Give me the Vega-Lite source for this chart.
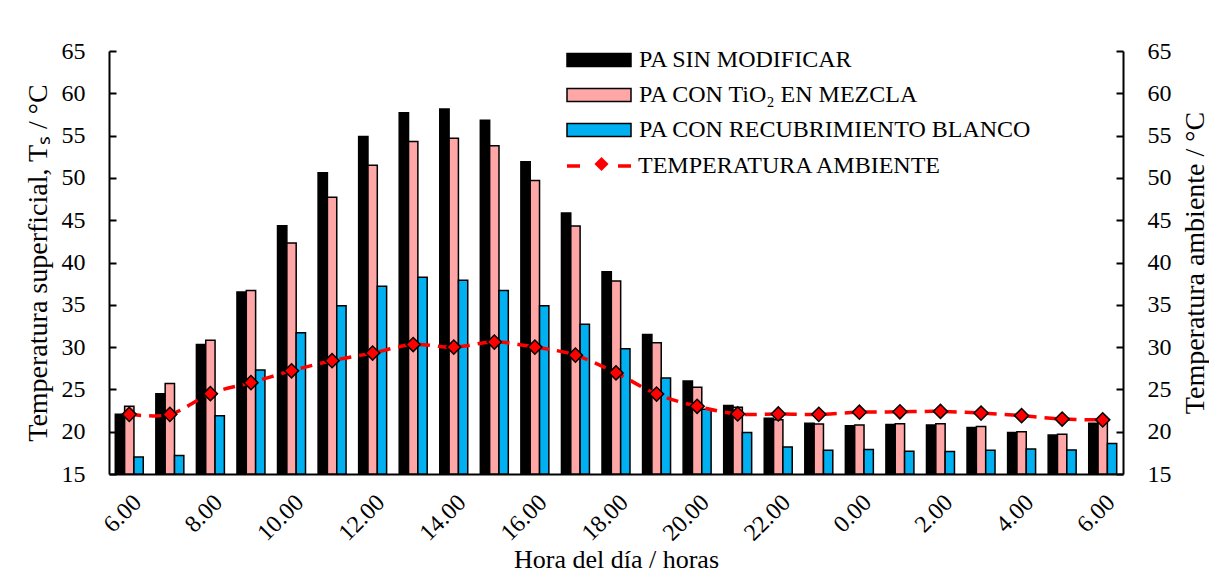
{
  "$schema": "https://vega.github.io/schema/vega-lite/v6.json",
  "autosize": {"type": "none"},
  "width": 1014,
  "height": 423,
  "padding": {"left": 109, "top": 51, "right": 86, "bottom": 98},
  "background": "white",
  "config": {
    "view": {"stroke": null},
    "font": "Liberation Serif",
    "axis": {
      "labelFont": "Liberation Serif",
      "labelFontSize": 24,
      "labelColor": "black",
      "titleFont": "Liberation Serif",
      "titleFontSize": 26,
      "titleFontWeight": "normal",
      "titleColor": "black",
      "domainColor": "black",
      "domainWidth": 2,
      "tickColor": "black",
      "tickWidth": 2,
      "grid": false
    },
    "legend": {
      "labelFont": "Liberation Serif",
      "labelFontSize": 24,
      "labelColor": "black",
      "padding": 0,
      "labelLimit": 600
    }
  },
  "datasets": {
    "bars": [
      {"i": 0, "serie": "PA SIN MODIFICAR", "v": 22.05},
      {"i": 0, "serie": "PA CON TiO₂ EN MEZCLA", "v": 23.0},
      {"i": 0, "serie": "PA CON RECUBRIMIENTO BLANCO", "v": 17.0},
      {"i": 1, "serie": "PA SIN MODIFICAR", "v": 24.5},
      {"i": 1, "serie": "PA CON TiO₂ EN MEZCLA", "v": 25.7},
      {"i": 1, "serie": "PA CON RECUBRIMIENTO BLANCO", "v": 17.2},
      {"i": 2, "serie": "PA SIN MODIFICAR", "v": 30.3},
      {"i": 2, "serie": "PA CON TiO₂ EN MEZCLA", "v": 30.8},
      {"i": 2, "serie": "PA CON RECUBRIMIENTO BLANCO", "v": 21.9},
      {"i": 3, "serie": "PA SIN MODIFICAR", "v": 36.5},
      {"i": 3, "serie": "PA CON TiO₂ EN MEZCLA", "v": 36.7},
      {"i": 3, "serie": "PA CON RECUBRIMIENTO BLANCO", "v": 27.3},
      {"i": 4, "serie": "PA SIN MODIFICAR", "v": 44.35},
      {"i": 4, "serie": "PA CON TiO₂ EN MEZCLA", "v": 42.3},
      {"i": 4, "serie": "PA CON RECUBRIMIENTO BLANCO", "v": 31.7},
      {"i": 5, "serie": "PA SIN MODIFICAR", "v": 50.6},
      {"i": 5, "serie": "PA CON TiO₂ EN MEZCLA", "v": 47.7},
      {"i": 5, "serie": "PA CON RECUBRIMIENTO BLANCO", "v": 34.9},
      {"i": 6, "serie": "PA SIN MODIFICAR", "v": 54.9},
      {"i": 6, "serie": "PA CON TiO₂ EN MEZCLA", "v": 51.5},
      {"i": 6, "serie": "PA CON RECUBRIMIENTO BLANCO", "v": 37.2},
      {"i": 7, "serie": "PA SIN MODIFICAR", "v": 57.7},
      {"i": 7, "serie": "PA CON TiO₂ EN MEZCLA", "v": 54.3},
      {"i": 7, "serie": "PA CON RECUBRIMIENTO BLANCO", "v": 38.25},
      {"i": 8, "serie": "PA SIN MODIFICAR", "v": 58.15},
      {"i": 8, "serie": "PA CON TiO₂ EN MEZCLA", "v": 54.7},
      {"i": 8, "serie": "PA CON RECUBRIMIENTO BLANCO", "v": 37.9},
      {"i": 9, "serie": "PA SIN MODIFICAR", "v": 56.8},
      {"i": 9, "serie": "PA CON TiO₂ EN MEZCLA", "v": 53.8},
      {"i": 9, "serie": "PA CON RECUBRIMIENTO BLANCO", "v": 36.7},
      {"i": 10, "serie": "PA SIN MODIFICAR", "v": 51.9},
      {"i": 10, "serie": "PA CON TiO₂ EN MEZCLA", "v": 49.7},
      {"i": 10, "serie": "PA CON RECUBRIMIENTO BLANCO", "v": 34.9},
      {"i": 11, "serie": "PA SIN MODIFICAR", "v": 45.85},
      {"i": 11, "serie": "PA CON TiO₂ EN MEZCLA", "v": 44.3},
      {"i": 11, "serie": "PA CON RECUBRIMIENTO BLANCO", "v": 32.7},
      {"i": 12, "serie": "PA SIN MODIFICAR", "v": 38.9},
      {"i": 12, "serie": "PA CON TiO₂ EN MEZCLA", "v": 37.8},
      {"i": 12, "serie": "PA CON RECUBRIMIENTO BLANCO", "v": 29.8},
      {"i": 13, "serie": "PA SIN MODIFICAR", "v": 31.5},
      {"i": 13, "serie": "PA CON TiO₂ EN MEZCLA", "v": 30.5},
      {"i": 13, "serie": "PA CON RECUBRIMIENTO BLANCO", "v": 26.35},
      {"i": 14, "serie": "PA SIN MODIFICAR", "v": 26.0},
      {"i": 14, "serie": "PA CON TiO₂ EN MEZCLA", "v": 25.25},
      {"i": 14, "serie": "PA CON RECUBRIMIENTO BLANCO", "v": 22.65},
      {"i": 15, "serie": "PA SIN MODIFICAR", "v": 23.1},
      {"i": 15, "serie": "PA CON TiO₂ EN MEZCLA", "v": 22.9},
      {"i": 15, "serie": "PA CON RECUBRIMIENTO BLANCO", "v": 19.9},
      {"i": 16, "serie": "PA SIN MODIFICAR", "v": 21.6},
      {"i": 16, "serie": "PA CON TiO₂ EN MEZCLA", "v": 21.4},
      {"i": 16, "serie": "PA CON RECUBRIMIENTO BLANCO", "v": 18.2},
      {"i": 17, "serie": "PA SIN MODIFICAR", "v": 21.0},
      {"i": 17, "serie": "PA CON TiO₂ EN MEZCLA", "v": 20.9},
      {"i": 17, "serie": "PA CON RECUBRIMIENTO BLANCO", "v": 17.8},
      {"i": 18, "serie": "PA SIN MODIFICAR", "v": 20.7},
      {"i": 18, "serie": "PA CON TiO₂ EN MEZCLA", "v": 20.8},
      {"i": 18, "serie": "PA CON RECUBRIMIENTO BLANCO", "v": 17.9},
      {"i": 19, "serie": "PA SIN MODIFICAR", "v": 20.85},
      {"i": 19, "serie": "PA CON TiO₂ EN MEZCLA", "v": 20.95},
      {"i": 19, "serie": "PA CON RECUBRIMIENTO BLANCO", "v": 17.7},
      {"i": 20, "serie": "PA SIN MODIFICAR", "v": 20.8},
      {"i": 20, "serie": "PA CON TiO₂ EN MEZCLA", "v": 20.95},
      {"i": 20, "serie": "PA CON RECUBRIMIENTO BLANCO", "v": 17.65},
      {"i": 21, "serie": "PA SIN MODIFICAR", "v": 20.5},
      {"i": 21, "serie": "PA CON TiO₂ EN MEZCLA", "v": 20.6},
      {"i": 21, "serie": "PA CON RECUBRIMIENTO BLANCO", "v": 17.8},
      {"i": 22, "serie": "PA SIN MODIFICAR", "v": 19.9},
      {"i": 22, "serie": "PA CON TiO₂ EN MEZCLA", "v": 20.0},
      {"i": 22, "serie": "PA CON RECUBRIMIENTO BLANCO", "v": 17.95},
      {"i": 23, "serie": "PA SIN MODIFICAR", "v": 19.6},
      {"i": 23, "serie": "PA CON TiO₂ EN MEZCLA", "v": 19.7},
      {"i": 23, "serie": "PA CON RECUBRIMIENTO BLANCO", "v": 17.85},
      {"i": 24, "serie": "PA SIN MODIFICAR", "v": 21.0},
      {"i": 24, "serie": "PA CON TiO₂ EN MEZCLA", "v": 21.3},
      {"i": 24, "serie": "PA CON RECUBRIMIENTO BLANCO", "v": 18.6}
    ],
    "amb": [
      {"i": 0, "t": 22.05, "serie": "TEMPERATURA AMBIENTE", "marca": "TEMPERATURA AMBIENTE"},
      {"i": 1, "t": 22.05, "serie": "TEMPERATURA AMBIENTE", "marca": "TEMPERATURA AMBIENTE"},
      {"i": 2, "t": 24.5, "serie": "TEMPERATURA AMBIENTE", "marca": "TEMPERATURA AMBIENTE"},
      {"i": 3, "t": 25.8, "serie": "TEMPERATURA AMBIENTE", "marca": "TEMPERATURA AMBIENTE"},
      {"i": 4, "t": 27.2, "serie": "TEMPERATURA AMBIENTE", "marca": "TEMPERATURA AMBIENTE"},
      {"i": 5, "t": 28.4, "serie": "TEMPERATURA AMBIENTE", "marca": "TEMPERATURA AMBIENTE"},
      {"i": 6, "t": 29.3, "serie": "TEMPERATURA AMBIENTE", "marca": "TEMPERATURA AMBIENTE"},
      {"i": 7, "t": 30.3, "serie": "TEMPERATURA AMBIENTE", "marca": "TEMPERATURA AMBIENTE"},
      {"i": 8, "t": 30.0, "serie": "TEMPERATURA AMBIENTE", "marca": "TEMPERATURA AMBIENTE"},
      {"i": 9, "t": 30.6, "serie": "TEMPERATURA AMBIENTE", "marca": "TEMPERATURA AMBIENTE"},
      {"i": 10, "t": 30.0, "serie": "TEMPERATURA AMBIENTE", "marca": "TEMPERATURA AMBIENTE"},
      {"i": 11, "t": 29.05, "serie": "TEMPERATURA AMBIENTE", "marca": "TEMPERATURA AMBIENTE"},
      {"i": 12, "t": 26.95, "serie": "TEMPERATURA AMBIENTE", "marca": "TEMPERATURA AMBIENTE"},
      {"i": 13, "t": 24.45, "serie": "TEMPERATURA AMBIENTE", "marca": "TEMPERATURA AMBIENTE"},
      {"i": 14, "t": 23.0, "serie": "TEMPERATURA AMBIENTE", "marca": "TEMPERATURA AMBIENTE"},
      {"i": 15, "t": 22.1, "serie": "TEMPERATURA AMBIENTE", "marca": "TEMPERATURA AMBIENTE"},
      {"i": 16, "t": 22.1, "serie": "TEMPERATURA AMBIENTE", "marca": "TEMPERATURA AMBIENTE"},
      {"i": 17, "t": 22.05, "serie": "TEMPERATURA AMBIENTE", "marca": "TEMPERATURA AMBIENTE"},
      {"i": 18, "t": 22.3, "serie": "TEMPERATURA AMBIENTE", "marca": "TEMPERATURA AMBIENTE"},
      {"i": 19, "t": 22.35, "serie": "TEMPERATURA AMBIENTE", "marca": "TEMPERATURA AMBIENTE"},
      {"i": 20, "t": 22.4, "serie": "TEMPERATURA AMBIENTE", "marca": "TEMPERATURA AMBIENTE"},
      {"i": 21, "t": 22.2, "serie": "TEMPERATURA AMBIENTE", "marca": "TEMPERATURA AMBIENTE"},
      {"i": 22, "t": 21.9, "serie": "TEMPERATURA AMBIENTE", "marca": "TEMPERATURA AMBIENTE"},
      {"i": 23, "t": 21.5, "serie": "TEMPERATURA AMBIENTE", "marca": "TEMPERATURA AMBIENTE"},
      {"i": 24, "t": 21.4, "serie": "TEMPERATURA AMBIENTE", "marca": "TEMPERATURA AMBIENTE"}
    ]
  },
  "layer": [
    {
      "data": {"name": "bars"},
      "mark": {"type": "bar", "stroke": "black", "strokeWidth": 1.5},
      "encoding": {
        "x": {
          "field": "i",
          "type": "ordinal",
          "scale": {"paddingInner": 0.31, "paddingOuter": 0.155},
          "axis": {
            "labelAngle": -45,
            "labelAlign": "right",
            "labelBaseline": "top",
            "labelPadding": 16,
            "ticks": false,
            "labelExpr": "datum.value % 2 == 0 ? ((6 + datum.value) % 24) + '.00' : ''",
            "title": "Hora del día / horas",
            "titleY": 72,
            "titleBaseline": "top"
          }
        },
        "xOffset": {
          "field": "serie",
          "type": "nominal",
          "scale": {"domain": ["PA SIN MODIFICAR", "PA CON TiO₂ EN MEZCLA", "PA CON RECUBRIMIENTO BLANCO"], "paddingInner": 0, "paddingOuter": 0}
        },
        "y": {
          "field": "v",
          "type": "quantitative",
          "scale": {"domain": [15, 65], "nice": false, "zero": false},
          "axis": {
            "orient": "left",
            "values": [15, 20, 25, 30, 35, 40, 45, 50, 55, 60, 65],
            "tickSize": -7,
            "labelPadding": 31,
            "title": "Temperatura superficial, Tₛ / °C",
            "titleFontSize": 28,
            "titleX": -57,
            "titleAngle": 270,
            "titleBaseline": "bottom"
          }
        },
        "y2": {"datum": 15},
        "fill": {
          "field": "serie",
          "type": "nominal",
          "scale": {
            "domain": ["PA SIN MODIFICAR", "PA CON TiO₂ EN MEZCLA", "PA CON RECUBRIMIENTO BLANCO"],
            "range": ["#000000", "#FFA6A6", "#00B0F0"]
          },
          "legend": {
            "orient": "none",
            "legendX": 478,
            "legendY": -3,
            "title": null,
            "symbolType": "M-4,-0.8H4V0.8H-4Z",
            "symbolSize": 256,
            "symbolStrokeColor": "black",
            "symbolStrokeWidth": 1.5,
            "rowPadding": 11,
            "labelOffset": 28
          }
        }
      }
    },
    {
      "data": {"name": "amb"},
      "encoding": {
        "x": {"field": "i", "type": "ordinal"},
        "y": {
          "field": "t",
          "type": "quantitative",
          "scale": {"domain": [15, 65], "nice": false, "zero": false},
          "axis": {
            "orient": "right",
            "values": [15, 20, 25, 30, 35, 40, 45, 50, 55, 60, 65],
            "tickSize": -7,
            "labelPadding": 31,
            "title": "Temperatura ambiente / °C",
            "titleFontSize": 28,
            "titleX": 58,
            "titleAngle": 270,
            "titleBaseline": "top"
          }
        }
      },
      "layer": [
        {
          "mark": {"type": "line", "strokeWidth": 3.5, "strokeDash": [12, 8], "interpolate": "cardinal"},
          "encoding": {
            "stroke": {
              "field": "serie",
              "type": "nominal",
              "scale": {"range": ["#FF0000"]},
              "legend": {
                "orient": "none",
                "legendX": 456,
                "legendY": 81,
                "title": null,
                "symbolType": "stroke",
                "symbolSize": 4096,
                "symbolStrokeWidth": 3.5,
                "labelOffset": 5,
                "encode": {"symbols": {"update": {"strokeDash": {"value": [13, 38]}, "stroke": {"value": "#FF0000"}}}}
              }
            }
          }
        },
        {
          "mark": {"type": "point", "filled": true, "fill": "#FF0000", "stroke": "black", "strokeWidth": 1.5, "size": 200, "opacity": 1},
          "encoding": {
            "shape": {
              "field": "marca",
              "type": "nominal",
              "scale": {"range": ["diamond"]},
              "legend": {
                "orient": "none",
                "legendX": 480.5,
                "legendY": 101,
                "title": null,
                "symbolSize": 200,
                "symbolFillColor": "#FF0000",
                "symbolStrokeColor": "black",
                "symbolStrokeWidth": 1.5,
                "labelExpr": "' '"
              }
            }
          }
        }
      ]
    }
  ],
  "resolve": {"scale": {"y": "independent"}}
}
